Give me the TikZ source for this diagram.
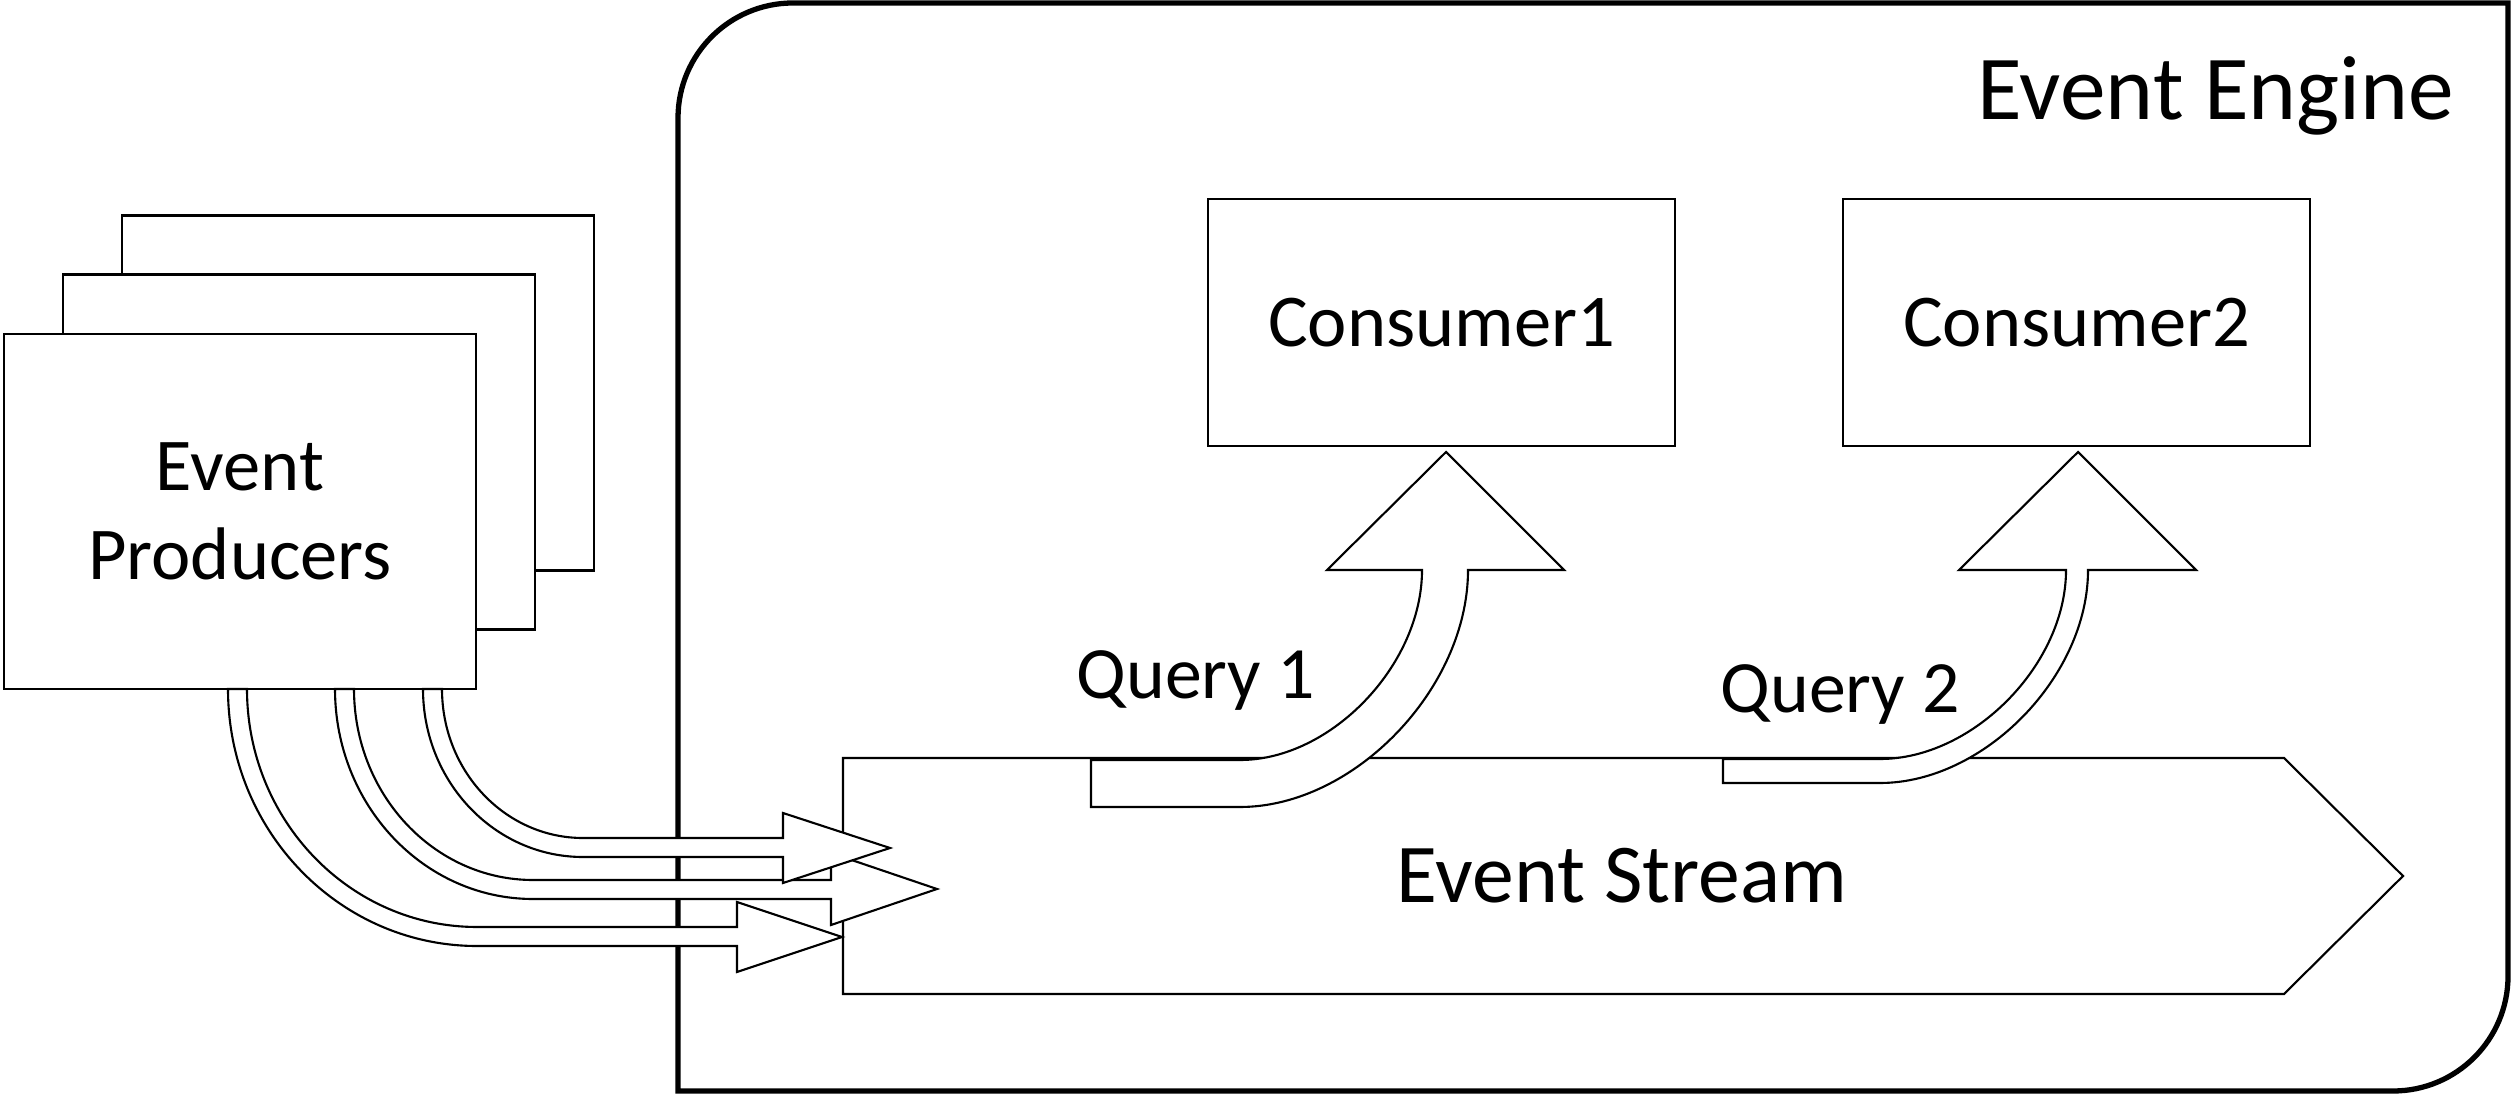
\documentclass[tikz,border=0pt]{standalone}
\usepackage{fontspec}
\setmainfont{Carlito}
\usepackage{tikz}
\usetikzlibrary{positioning}

\begin{document}
\begin{tikzpicture}[x=0.1mm, y=0.1mm,
    txt/.style={font=\fontsize{21.2}{25.3}\selectfont},
    qtxt/.style={font=\fontsize{21}{25}\selectfont},
    prodbox/.style={draw, fill=white, line width=0.6pt, inner sep=0pt,
        minimum width=47.2mm, minimum height=35.5mm},
    conbox/.style={draw, line width=0.6pt, inner sep=0pt,
        minimum width=46.7mm, minimum height=24.7mm},
    blockarrow/.style={draw, fill=white, line width=0.6pt}]
    \useasboundingbox (0,0) rectangle (2513,-1094);

    % engine
    \draw[line width=1.5pt] (678,-1091) -- (678,-118)
        arc[start angle=180, end angle=90, radius=11.5mm] -- (2508,-3) -- (2508,-976)
        arc[start angle=0, end angle=-90, radius=11.5mm] -- cycle;
    \node[font=\fontsize{26}{30}\selectfont, anchor=base east, inner sep=0pt] (engine) at (2455,-120) {Event Engine};

    % producers
    \node[prodbox] (prodback) at (358,-393) {};
    \node[prodbox] (prodmid) at (299,-452) {};
    \node[prodbox, txt, align=center] (prod) at (240,-511.5) {Event\\Producers};

    % stream
    \draw[line width=0.6pt] (843,-758) -- (2284,-758) -- (2403,-876) -- (2284,-994) -- (843,-994) -- cycle;
    \node[font=\fontsize{23.8}{28}\selectfont] (stream) at (1622,-876) {Event Stream};

    % consumers
    \node[conbox, txt] (con1) at (1441.5,-322.5) {Consumer1};
    \node[conbox, txt, right=16.6mm of con1] (con2) {Consumer2};

    % queries
    \draw[blockarrow] (1091,-760) -- (1240,-760)
        .. controls (1331,-760) and (1422,-665) .. (1422,-570)
        -- (1327,-570) -- (1446,-452) -- (1564,-570) -- (1468,-570)
        .. controls (1468,-688.5) and (1354,-807) .. (1240,-807) -- (1091,-807) -- cycle;
    \draw[blockarrow] (1723,-759) -- (1880,-759)
        .. controls (1973,-759) and (2066,-664.5) .. (2066,-570)
        -- (1959,-570) -- (2078,-452) -- (2196,-570) -- (2088,-570)
        .. controls (2088,-676.5) and (1984,-783) .. (1880,-783) -- (1723,-783) -- cycle;
    \node[qtxt, anchor=base] (q1) at (1196,-699) {Query 1};
    \node[qtxt, anchor=base] (q2) at (1840,-713) {Query 2};

    % producer arrows
    \draw[blockarrow] (247,-689) arc[start angle=180, end angle=270, x radius=23mm, y radius=23.8mm]
        -- (737,-927) -- (737,-902) -- (842,-937) -- (737,-972) -- (737,-946) -- (477,-946)
        arc[start angle=270, end angle=180, x radius=24.9mm, y radius=25.7mm] -- cycle;
    \draw[blockarrow] (354,-689) arc[start angle=180, end angle=270, x radius=17.9mm, y radius=19.1mm]
        -- (831,-880) -- (831,-853) -- (937,-889) -- (831,-925) -- (831,-899) -- (533,-899)
        arc[start angle=270, end angle=180, x radius=19.8mm, y radius=21mm] -- cycle;
    \draw[blockarrow] (442,-689) arc[start angle=180, end angle=270, x radius=14.1mm, y radius=14.9mm]
        -- (783,-838) -- (783,-813) -- (890,-848) -- (783,-883) -- (783,-857) -- (583,-857)
        arc[start angle=270, end angle=180, x radius=16mm, y radius=16.8mm] -- cycle;
\end{tikzpicture}
\end{document}
